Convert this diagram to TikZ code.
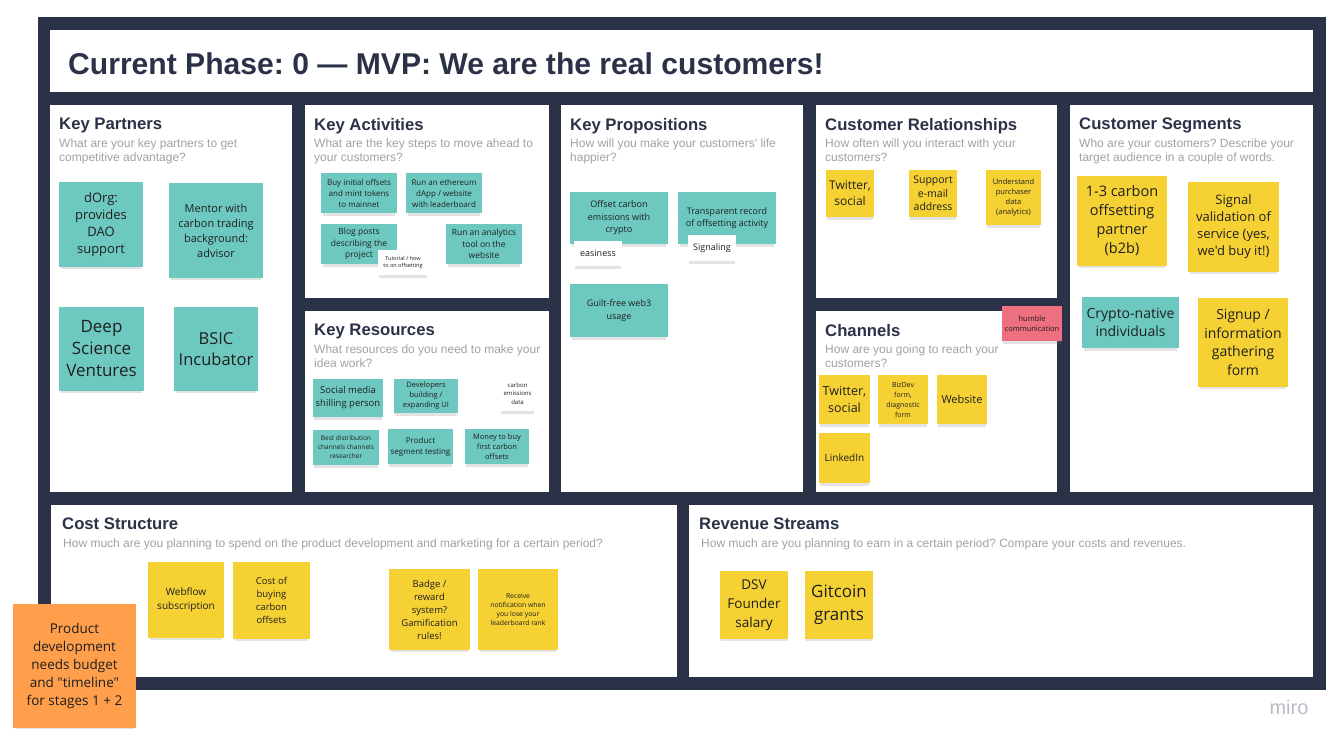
\documentclass[tikz,border=0pt]{standalone}
\usepackage{fontspec}
\setmainfont{Liberation Sans}[Ligatures=TeXOff]
\newfontfamily\stickyfont{Open Sans}[Ligatures=TeXOff]
\usetikzlibrary{shadows}
\definecolor{frame-navy}{HTML}{2B3248}
\definecolor{sticky-teal}{HTML}{6DC9C0}
\definecolor{sticky-yellow}{HTML}{F5D134}
\definecolor{sticky-orange}{HTML}{FF9E4B}
\definecolor{sticky-pink}{HTML}{EE6F80}
\definecolor{sub-grey}{HTML}{A2A2A2}
\definecolor{miro-grey}{HTML}{B9BBC4}
\definecolor{ink}{HTML}{1F1F1F}
\newcommand\notesize[2]{\stickyfont\fontsize{#1}{#2}\selectfont}
\frenchspacing

\begin{document}
\begin{tikzpicture}[x=1pt, y=-1pt,
        every node/.style={inner sep=0pt},
        cell/.style={fill=white, anchor=north west},
        cell title/.style={anchor=north west, text=frame-navy,
            font=\bfseries\fontsize{16.7}{20}\selectfont},
        cell text/.style={anchor=north west, align=left, text=sub-grey,
            font=\fontsize{12}{14}\selectfont},
        note/.style={align=center, text=ink,
            drop shadow={shadow xshift=0pt, shadow yshift=-4pt, shadow scale=.96, opacity=.22}},
        teal note/.style={note, fill=sticky-teal},
        yellow note/.style={note, fill=sticky-yellow},
        white note/.style={note, fill=white}]
      \useasboundingbox (0,0) rectangle (1341,745);
      \node[fill=frame-navy, anchor=north west, minimum width=1288, minimum height=673] (board) at (38,17) {};
      \node[fill=white, anchor=north west, minimum width=1263, minimum height=62] (header) at (50,30) {};
      \node[anchor=base west, text=frame-navy, font=\bfseries\fontsize{30.1}{36}\selectfont]
            (phase) at ([shift={(18,44)}]header.north west) {Current Phase: 0 — MVP: We are the real customers!};

      \node[cell, minimum width=242, minimum height=387] (KP) at (50,105) {};
      \node[cell title] (KPtitle) at ([shift={(9,13)}]KP.north west) {Key Partners};
      \node[cell text] (KPtext) at ([shift={(9,34)}]KP.north west) {What are your key partners to get\\competitive advantage?};
      \node[cell, minimum width=244, minimum height=193] (KA) at (305,105) {};
      \node[cell title] (KAtitle) at ([shift={(9,13)}]KA.north west) {Key Activities};
      \node[cell text] (KAtext) at ([shift={(9,34)}]KA.north west) {What are the key steps to move ahead to\\your customers?};
      \node[cell, minimum width=244, minimum height=181] (KR) at (305,311) {};
      \node[cell title] (KRtitle) at ([shift={(9,13)}]KR.north west) {Key Resources};
      \node[cell text] (KRtext) at ([shift={(9,34)}]KR.north west) {What resources do you need to make your\\idea work?};
      \node[cell, minimum width=242, minimum height=387] (VP) at (561,105) {};
      \node[cell title] (VPtitle) at ([shift={(9,13)}]VP.north west) {Key Propositions};
      \node[cell text] (VPtext) at ([shift={(9,34)}]VP.north west) {How will you make your customers' life\\happier?};
      \node[cell, minimum width=241, minimum height=193] (CR) at (816,105) {};
      \node[cell title] (CRtitle) at ([shift={(9,13)}]CR.north west) {Customer Relationships};
      \node[cell text] (CRtext) at ([shift={(9,34)}]CR.north west) {How often will you interact with your\\customers?};
      \node[cell, minimum width=241, minimum height=181] (CH) at (816,311) {};
      \node[cell title] (CHtitle) at ([shift={(9,13)}]CH.north west) {Channels};
      \node[cell text] (CHtext) at ([shift={(9,34)}]CH.north west) {How are you going to reach your\\customers?};
      \node[cell, minimum width=243, minimum height=387] (CS) at (1070,105) {};
      \node[cell title] (CStitle) at ([shift={(9,13)}]CS.north west) {Customer Segments};
      \node[cell text] (CStext) at ([shift={(9,34)}]CS.north west) {Who are your customers? Describe your\\target audience in a couple of words.};
      \node[cell, minimum width=626, minimum height=172] (CO) at (51,505) {};
      \node[cell title] (COtitle) at ([shift={(11,13)}]CO.north west) {Cost Structure};
      \node[cell text] (COtext) at ([shift={(12,34)}]CO.north west) {How much are you planning to spend on the product development and marketing for a certain period?};
      \node[cell, minimum width=624, minimum height=172] (RS) at (689,505) {};
      \node[cell title] (REtitle) at ([shift={(10,13)}]RS.north west) {Revenue Streams};
      \node[cell text] (REtext) at ([shift={(12,34)}]RS.north west) {How much are you planning to earn in a certain period? Compare your costs and revenues.};

      \node[teal note, font=\notesize{13}{17}, minimum width=84, minimum height=85] (dorg) at (101,224.5) {dOrg:\\provides\\DAO\\support};
      \node[teal note, font=\notesize{11}{15}, minimum width=94, minimum height=95] (mentor) at (216,230.5) {Mentor with\\carbon trading\\background:\\advisor};
      \node[teal note, font=\notesize{17}{22}, minimum width=85, minimum height=84] (dsv) at (101.5,349) {Deep\\Science\\Ventures};
      \node[teal note, font=\notesize{16.5}{21}, minimum width=84, minimum height=84] (bsic) at (216,349) {BSIC\\Incubator};

      \node[teal note, font=\notesize{8}{11}, minimum width=76, minimum height=40] (offsets) at (359,193) {Buy initial offsets\\and mint tokens\\to mainnet};
      \node[teal note, font=\notesize{8}{11}, minimum width=76, minimum height=40] (dapp) at (444,193) {Run an ethereum\\dApp / website\\with leaderboard};
      \node[teal note, font=\notesize{8.5}{11.5}, minimum width=76, minimum height=40] (blog) at (359,244) {Blog posts\\describing the\\project};
      \node[teal note, font=\notesize{8.5}{11.5}, minimum width=76, minimum height=40] (analytics) at (484,244) {Run an analytics\\tool on the\\website};
      \node[white note, font=\notesize{5.5}{7.5}, minimum width=50, minimum height=25] (tutorial) at (403,262.5) {Tutorial / how\\to on offsetting};

      \node[teal note, font=\notesize{9.5}{13}, minimum width=70, minimum height=38] (shilling) at (348,398) {Social media\\shilling person};
      \node[teal note, font=\notesize{7.5}{10}, minimum width=64, minimum height=34] (developers) at (426,396) {Developers\\building /\\expanding UI};
      \node[white note, font=\notesize{6}{8.5}, minimum width=35, minimum height=35] (emissions) at (517.5,393.5) {carbon\\emissions\\data};
      \node[teal note, font=\notesize{6.5}{9}, minimum width=66, minimum height=35] (distribution) at (346,447.5) {Best distribution\\channels channels\\researcher};
      \node[teal note, font=\notesize{8}{11}, minimum width=65, minimum height=35] (segtest) at (420.5,446.5) {Product\\segment testing};
      \node[teal note, font=\notesize{7.5}{10}, minimum width=64, minimum height=35] (money) at (497,446.5) {Money to buy\\first carbon\\offsets};

      \node[teal note, font=\notesize{9}{12.5}, minimum width=98, minimum height=52] (offsetcrypto) at (619,218) {Offset carbon\\emissions with\\crypto};
      \node[teal note, font=\notesize{9}{12.5}, minimum width=98, minimum height=52] (record) at (727,218) {Transparent record\\of offsetting activity};
      \node[white note, font=\notesize{9}{12}, minimum width=48, minimum height=25] (easiness) at (598,253.5) {easiness};
      \node[white note, font=\notesize{9}{12}, minimum width=48, minimum height=26] (signaling) at (712,248) {Signaling};
      \node[teal note, font=\notesize{9}{12.5}, minimum width=98, minimum height=53] (guiltfree) at (619,310.5) {Guilt-free web3\\usage};

      \node[yellow note, font=\notesize{12}{16}, minimum width=48, minimum height=47] (twitterCR) at (850,193.5) {Twitter,\\social};
      \node[yellow note, font=\notesize{10.5}{13.5}, minimum width=48, minimum height=47] (support) at (933,193.5) {Support\\e-mail\\address};
      \node[yellow note, font=\notesize{7.5}{10}, minimum width=55, minimum height=55] (purchaser) at (1013.5,197.5) {Understand\\purchaser\\data\\(analytics)};

      \node[yellow note, font=\notesize{12.5}{16.5}, minimum width=51, minimum height=49] (twitterCH) at (844.5,399.5) {Twitter,\\social};
      \node[yellow note, font=\notesize{7}{10}, minimum width=50, minimum height=49] (bizdev) at (903,399.5) {BizDev\\form,\\diagnostic\\form};
      \node[yellow note, font=\notesize{11}{14}, minimum width=50, minimum height=49] (website) at (962,399.5) {Website};
      \node[yellow note, font=\notesize{10}{13}, minimum width=51, minimum height=50] (linkedin) at (844.5,458) {LinkedIn};
      \node[note, fill=sticky-pink, font=\notesize{7.5}{10.5}, minimum width=60, minimum height=35] (humble) at (1032,323.5) {humble\\communication};

      \node[yellow note, font=\notesize{14.5}{19}, minimum width=90, minimum height=90] (partner) at (1122,221) {1-3 carbon\\offsetting\\partner\\(b2b)};
      \node[yellow note, font=\notesize{13}{17}, minimum width=91, minimum height=90] (validation) at (1233.5,227) {Signal\\validation of\\service (yes,\\we'd buy it!)};
      \node[teal note, font=\notesize{14}{18.5}, minimum width=97, minimum height=51] (cryptonative) at (1130.5,322.5) {Crypto-native\\individuals};
      \node[yellow note, font=\notesize{14}{18.5}, minimum width=90, minimum height=89] (signup) at (1243,342.5) {Signup /\\information\\gathering\\form};

      \node[yellow note, font=\notesize{10}{13.5}, minimum width=76, minimum height=76] (webflow) at (186,600) {Webflow\\subscription};
      \node[yellow note, font=\notesize{9.5}{13}, minimum width=77, minimum height=77] (buying) at (271.5,600.5) {Cost of\\buying\\carbon\\offsets};
      \node[yellow note, font=\notesize{9.5}{13}, minimum width=81, minimum height=81] (badge) at (429.5,609.5) {Badge /\\reward\\system?\\Gamification\\rules!};
      \node[yellow note, font=\notesize{6.8}{8.8}, minimum width=80, minimum height=81] (notify) at (518,609.5) {Receive\\notification when\\you lose your\\leaderboard rank};
      \node[note, fill=sticky-orange, font=\notesize{13.5}{18}, minimum width=123, minimum height=124] (budget) at (74.5,666) {Product\\development\\needs budget\\and "timeline"\\for stages 1 + 2};

      \node[yellow note, font=\notesize{13.5}{19}, minimum width=68, minimum height=68] (salary) at (754,605) {DSV\\Founder\\salary};
      \node[yellow note, font=\notesize{17}{23}, minimum width=68, minimum height=68] (gitcoin) at (839,605) {Gitcoin\\grants};

      \node[text=miro-grey, font=\fontsize{20}{24}\selectfont] (miro) at (1289,707) {miro};
    \end{tikzpicture}
\end{document}
